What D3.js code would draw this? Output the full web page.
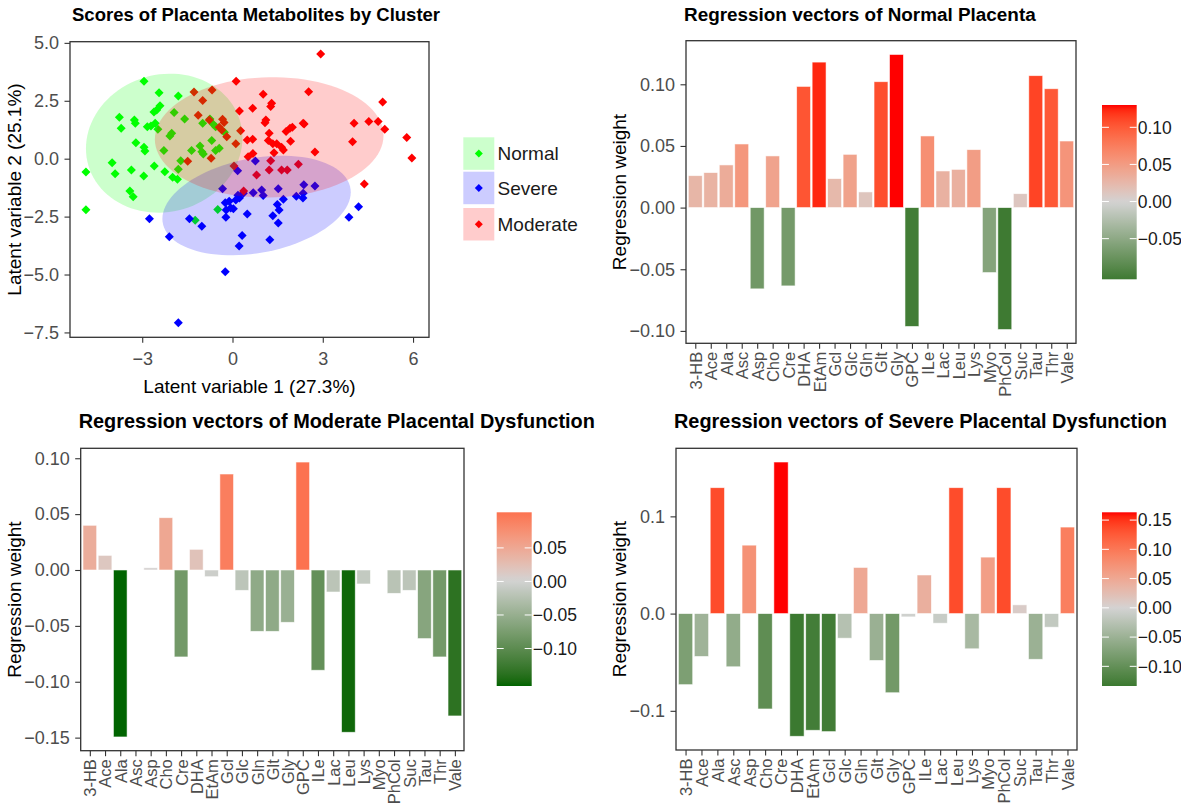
<!DOCTYPE html>
<html>
<head>
<meta charset="utf-8">
<script src="https://cdn.jsdelivr.net/npm/d3@7"></script>
<style>
  body { margin: 0; background: #fff; }
  svg text { font-family: "Liberation Sans", Arial, sans-serif; }
</style>
</head>
<body>
<div id="chart"></div>
<script>
// scatter scores per cluster
const normalX = [-2.94,-2.44,-1.80,-2.41,-2.52,-2.61,-3.76,-3.26,-3.23,-3.70,-2.83,-2.71,-2.57,-2.48,-1.94,-1.59,-2.02,-2.08,-0.99,-0.75,-0.64,-0.56,-0.27,-3.21,-2.94,-2.91,-2.28,-0.69,-1.36,-1.08,-1.02,-0.97,-0.56,-0.44,-1.72,-4.00,-3.90,-3.36,-2.60,-2.95,-2.25,-1.99,-1.83,-1.80,-4.87,-4.87,-3.41,-3.30,-0.49,-1.24];
const normalY = [3.34,2.85,2.71,2.28,2.10,2.02,1.79,1.67,1.53,1.31,1.38,1.41,1.53,1.27,1.99,1.71,1.10,0.98,1.53,1.71,1.49,1.38,1.14,0.69,0.49,0.33,0.35,0.78,0.35,0.55,0.30,0.20,0.35,0.45,-0.09,-0.17,-0.65,-0.49,-0.32,-0.75,-0.56,-0.80,-0.89,-0.46,-0.57,-2.20,-1.40,-1.64,-2.19,-2.66];
const severeX = [-0.33,-0.24,-0.11,-0.06,-0.21,0.03,0.11,0.18,0.23,0.36,-0.22,0.49,0.69,0.97,1.02,1.52,1.69,1.49,1.55,1.34,1.52,2.12,2.34,2.37,2.74,0.76,0.17,1.24,0.32,0.22,3.87,4.19,-1.43,-1.02,-2.76,-2.10,-0.24,-1.80,2.35];
const severeY = [-1.30,-1.90,-1.84,-2.13,-2.22,-2.16,-1.78,-1.58,-1.70,-1.49,-2.53,-2.39,-1.47,-1.35,-1.59,-1.30,-1.75,-1.98,-2.22,-2.46,-2.78,-1.62,-1.70,-1.12,-1.18,-0.10,-0.52,-3.50,-3.32,-3.77,-2.53,-2.08,-2.59,-2.92,-2.59,-3.37,-4.88,-7.08,-1.49];
const moderateX = [0.12,-1.28,-0.68,-0.99,0.23,-1.14,-0.77,-0.33,-0.28,-0.44,-0.36,0.27,-0.19,0.11,-0.71,-1.49,0.05,2.93,2.53,1.02,1.30,1.27,0.67,1.11,1.08,2.35,2.38,1.78,1.91,1.99,1.22,0.67,0.49,1.19,1.34,1.47,1.63,1.69,1.38,1.93,2.74,0.68,0.52,4.04,4.53,4.84,5.06,4.99,3.99,5.79,5.96,4.38,1.27,1.22,0.80,1.63,1.82,2.19,0.37];
const moderateY = [3.34,2.88,2.97,2.51,2.06,1.87,1.67,1.70,1.56,1.36,1.24,1.21,0.95,0.64,0.02,-0.11,-0.32,4.52,2.89,2.78,2.39,2.25,2.18,1.67,1.55,1.53,1.50,1.17,1.31,1.36,1.10,0.84,0.81,0.78,0.64,0.64,0.49,0.38,0.26,0.75,0.29,0.22,0.08,1.53,1.60,1.60,1.27,2.45,0.73,0.92,0.03,-1.09,-0.09,-0.49,-0.70,-0.49,-0.49,-0.24,-1.40];

// ellipse per cluster: centre x, centre y, half width, half height, covariance term (data units)
const clusters = ["Normal", "Severe", "Moderate"];
const clusterColors = ["#00ff00", "#0000ff", "#ff0000"];
const ellCx = [-2.27, 0.80, 1.22];
const ellCy = [0.67, -2.02, 0.92];
const ellW = [2.60, 3.13, 3.80];
const ellH = [3.00, 2.15, 2.60];
const ellCov = [0.6, 1.8, 0.3];

const scatterXTicks = [-3, 0, 3, 6];
const scatterYTicks = [-7.5, -5, -2.5, 0, 2.5, 5];

// regression vectors
const metabolites = ["3-HB","Ace","Ala","Asc","Asp","Cho","Cre","DHA","EtAm","Gcl","Glc","Gln","Glt","Gly","GPC","ILe","Lac","Leu","Lys","Myo","PhCol","Suc","Tau","Thr","Vale"];
const normalWeights = [0.0259,0.0284,0.0346,0.0516,-0.0659,0.0419,-0.0635,0.0983,0.118,0.0235,0.0432,0.0127,0.1021,0.1242,-0.0964,0.0581,0.0297,0.031,0.047,-0.0527,-0.0989,0.0113,0.107,0.0964,0.054];
const moderateWeights = [0.0400,0.0131,-0.1494,0,0.002,0.0468,-0.0778,0.0185,-0.006,0.0859,-0.0182,-0.0549,-0.0549,-0.0468,0.0966,-0.0897,-0.0197,-0.1452,-0.0125,0,-0.0209,-0.0182,-0.0614,-0.0778,-0.1306];
const severeWeights = [-0.0731,-0.0441,0.1295,-0.0547,0.0704,-0.0981,0.1559,-0.1262,-0.12,-0.1214,-0.0253,0.0475,-0.0482,-0.0814,-0.0034,0.0397,-0.0099,0.1295,-0.0362,0.0581,0.1295,0.009,-0.047,-0.014,0.089];

const normalTicks = [-0.10, -0.05, 0, 0.05, 0.10];
const moderateTicks = [-0.15, -0.10, -0.05, 0, 0.05, 0.10];
const severeTicks = [-0.1, 0, 0.1];
const normalLegendTicks = [-0.05, 0, 0.05, 0.10];
const moderateLegendTicks = [-0.10, -0.05, 0, 0.05];
const severeLegendTicks = [-0.10, -0.05, 0, 0.05, 0.10, 0.15];

const lowCol = "#006400", midCol = "#d3d3d3", highCol = "#ff0000";

const svg = d3.select("#chart").append("svg")
    .attr("width", 1181)
    .attr("height", 803);
svg.append("rect").attr("width", 1181).attr("height", 803).attr("fill", "#fff");

const tickText = "#4d4d4d";

function styleAxis(g) {
    g.select(".domain").remove();
    g.selectAll(".tick line").attr("stroke", "#333").attr("stroke-width", 1.1);
    g.selectAll(".tick text").attr("fill", tickText).style("font-size", "18px");
}

// ---------- scatter ----------
(function() {
    const p = {left: 70, top: 41.7, right: 429, bottom: 337.3};
    const x = d3.scaleLinear().domain([-5.4, 6.53]).range([p.left, p.right]);
    const y = d3.scaleLinear().domain([-7.71, 5.05]).range([p.bottom, p.top]);
    const g = svg.append("g");

    const groups = [
        {x: normalX, y: normalY},
        {x: severeX, y: severeY},
        {x: moderateX, y: moderateY}
    ];
    const diamond = "M0,-4.5L4.5,0L0,4.5L-4.5,0Z";

    // points first, ellipses are painted over them
    groups.forEach((grp, i) => {
        g.selectAll(".pt" + i)
            .data(grp.x.map((v, j) => [v, grp.y[j]]))
            .enter().append("path")
            .attr("d", diamond)
            .attr("transform", d => "translate(" + x(d[0]) + "," + y(d[1]) + ")")
            .attr("fill", clusterColors[i]);
    });

    clusters.forEach((c, i) => {
        const l11 = ellW[i], l21 = ellCov[i] / ellW[i];
        const l22 = Math.sqrt(ellH[i] * ellH[i] - l21 * l21);
        const pts = d3.range(0, 101).map(k => {
            const t = k / 100 * 2 * Math.PI;
            return [ellCx[i] + l11 * Math.cos(t), ellCy[i] + l21 * Math.cos(t) + l22 * Math.sin(t)];
        });
        g.append("path")
            .attr("d", d3.line().x(d => x(d[0])).y(d => y(d[1]))(pts) + "Z")
            .attr("fill", clusterColors[i])
            .attr("fill-opacity", 0.2);
    });

    g.append("rect")
        .attr("x", p.left).attr("y", p.top)
        .attr("width", p.right - p.left).attr("height", p.bottom - p.top)
        .attr("fill", "none").attr("stroke", "#333").attr("stroke-width", 1.3);

    g.append("g").attr("transform", "translate(0," + p.bottom + ")")
        .call(d3.axisBottom(x).tickValues(scatterXTicks).tickSize(5.5).tickPadding(9).tickFormat(d3.format("d")))
        .call(styleAxis);
    g.append("g").attr("transform", "translate(" + p.left + ",0)")
        .call(d3.axisLeft(y).tickValues(scatterYTicks).tickSize(5.5).tickPadding(5.5).tickFormat(d3.format(".1f")))
        .call(styleAxis);

    g.append("text").attr("x", 72).attr("y", 21)
        .style("font-size", "18.5px").style("font-weight", "bold")
        .text("Scores of Placenta Metabolites by Cluster");
    g.append("text").attr("x", (p.left + p.right) / 2).attr("y", 393)
        .attr("text-anchor", "middle").style("font-size", "19px")
        .text("Latent variable 1 (27.3%)");
    g.append("text")
        .attr("transform", "translate(21," + (p.top + p.bottom) / 2 + ") rotate(-90)")
        .attr("text-anchor", "middle").style("font-size", "19px")
        .text("Latent variable 2 (25.1%)");

    // legend
    const keyTop = [137.3, 171.7, 208];
    clusters.forEach((c, i) => {
        g.append("rect").attr("x", 463.3).attr("y", keyTop[i])
            .attr("width", 31).attr("height", 32.5)
            .attr("fill", clusterColors[i]).attr("fill-opacity", 0.2);
        g.append("path").attr("d", "M0,-4L4,0L0,4L-4,0Z")
            .attr("transform", "translate(478.8," + (keyTop[i] + 16.2) + ")")
            .attr("fill", clusterColors[i]);
        g.append("text").attr("x", 497.5).attr("y", keyTop[i] + 16.2)
            .attr("dy", "0.36em").style("font-size", "19px").attr("fill", "#1a1a1a")
            .text(c);
    });
})();

// ---------- regression bar panels ----------
function barPanel(o) {
    const p = o.panel;
    const vmin = d3.min(o.values), vmax = d3.max(o.values);
    const pad = (vmax - vmin) * 0.05;
    const maxAbs = Math.max(Math.abs(vmin), Math.abs(vmax));
    const color = v => v >= 0
        ? d3.interpolateLab(midCol, highCol)(v / maxAbs)
        : d3.interpolateLab(midCol, lowCol)(-v / maxAbs);

    const xc = d3.scalePoint().domain(metabolites).range([p.left, p.right]).padding(0.6);
    const y = d3.scaleLinear().domain([vmin - pad, vmax + pad]).range([p.bottom, p.top]);
    const g = svg.append("g");

    const bw = xc.step() * 0.9;
    g.selectAll(".bar")
        .data(metabolites.map((m, i) => ({m: m, v: o.values[i]})).filter(d => d.v !== 0))
        .enter().append("rect")
        .attr("x", d => xc(d.m) - bw / 2)
        .attr("width", bw)
        .attr("y", d => y(Math.max(0, d.v)))
        .attr("height", d => Math.abs(y(d.v) - y(0)))
        .attr("fill", d => color(d.v))
        .attr("stroke", "#fff").attr("stroke-opacity", 0.7).attr("stroke-width", 0.8);

    g.append("rect")
        .attr("x", p.left).attr("y", p.top)
        .attr("width", p.right - p.left).attr("height", p.bottom - p.top)
        .attr("fill", "none").attr("stroke", "#333").attr("stroke-width", 1.3);

    g.append("g").attr("transform", "translate(" + p.left + ",0)")
        .call(d3.axisLeft(y).tickValues(o.ticks).tickSize(5.5).tickPadding(5.5).tickFormat(d3.format(o.fmt)))
        .call(styleAxis);

    const xa = g.append("g").attr("transform", "translate(0," + p.bottom + ")")
        .call(d3.axisBottom(xc).tickSize(5.5))
        .call(styleAxis);
    xa.selectAll(".tick text")
        .attr("transform", "rotate(-90)")
        .attr("text-anchor", "end")
        .attr("x", -8.5).attr("y", 0).attr("dy", "0.36em")
        .style("font-size", "16.5px");

    g.append("text").attr("x", p.left - 2).attr("y", o.titleY)
        .style("font-size", o.titleSize).style("font-weight", "bold")
        .text(o.title);
    g.append("text")
        .attr("transform", "translate(" + o.ylabX + "," + (p.top + p.bottom) / 2 + ") rotate(-90)")
        .attr("text-anchor", "middle").style("font-size", "19px")
        .text("Regression weight");

    // colour bar
    const lb = o.legend;
    const gid = "grad" + o.id;
    const grad = svg.append("defs").append("linearGradient")
        .attr("id", gid).attr("x1", 0).attr("y1", 1).attr("x2", 0).attr("y2", 0);
    d3.range(0, 41).forEach(k => {
        const t = k / 40;
        grad.append("stop").attr("offset", t).attr("stop-color", color(vmin + t * (vmax - vmin)));
    });
    g.append("rect").attr("x", lb.x).attr("y", lb.top)
        .attr("width", lb.w).attr("height", lb.bottom - lb.top)
        .attr("fill", "url(#" + gid + ")");
    const inset = (lb.bottom - lb.top) * 0.025;
    const ly = d3.scaleLinear().domain([vmin, vmax]).range([lb.bottom - inset, lb.top + inset]);
    o.legendTicks.forEach(t => {
        g.append("line").attr("x1", lb.x).attr("x2", lb.x + lb.w * 0.2)
            .attr("y1", ly(t)).attr("y2", ly(t)).attr("stroke", "#fff").attr("stroke-width", 1);
        g.append("line").attr("x1", lb.x + lb.w * 0.8).attr("x2", lb.x + lb.w)
            .attr("y1", ly(t)).attr("y2", ly(t)).attr("stroke", "#fff").attr("stroke-width", 1);
        g.append("text").attr("x", lb.x + lb.w + 1).attr("y", ly(t))
            .attr("dy", "0.36em").style("font-size", "17.5px").attr("fill", "#1a1a1a")
            .text(d3.format(".2f")(t));
    });
}

barPanel({
    id: "n", values: normalWeights, ticks: normalTicks, fmt: ".2f",
    panel: {left: 686, top: 40.7, right: 1076, bottom: 343.3},
    title: "Regression vectors of Normal Placenta", titleY: 21, titleSize: "18.9px", ylabX: 626,
    legend: {x: 1102, w: 34.7, top: 105, bottom: 279.3}, legendTicks: normalLegendTicks
});
barPanel({
    id: "m", values: moderateWeights, ticks: moderateTicks, fmt: ".2f",
    panel: {left: 80.7, top: 448.3, right: 464, bottom: 750.7},
    title: "Regression vectors of Moderate Placental Dysfunction", titleY: 428, titleSize: "19.9px", ylabX: 21,
    legend: {x: 496.7, w: 35, top: 512.3, bottom: 686}, legendTicks: moderateLegendTicks
});
barPanel({
    id: "s", values: severeWeights, ticks: severeTicks, fmt: ".1f",
    panel: {left: 676, top: 448.3, right: 1077, bottom: 750},
    title: "Regression vectors of Severe Placental Dysfunction", titleY: 428, titleSize: "19.9px", ylabX: 626,
    legend: {x: 1102, w: 34.7, top: 512.3, bottom: 686}, legendTicks: severeLegendTicks
});
</script>
</body>
</html>
